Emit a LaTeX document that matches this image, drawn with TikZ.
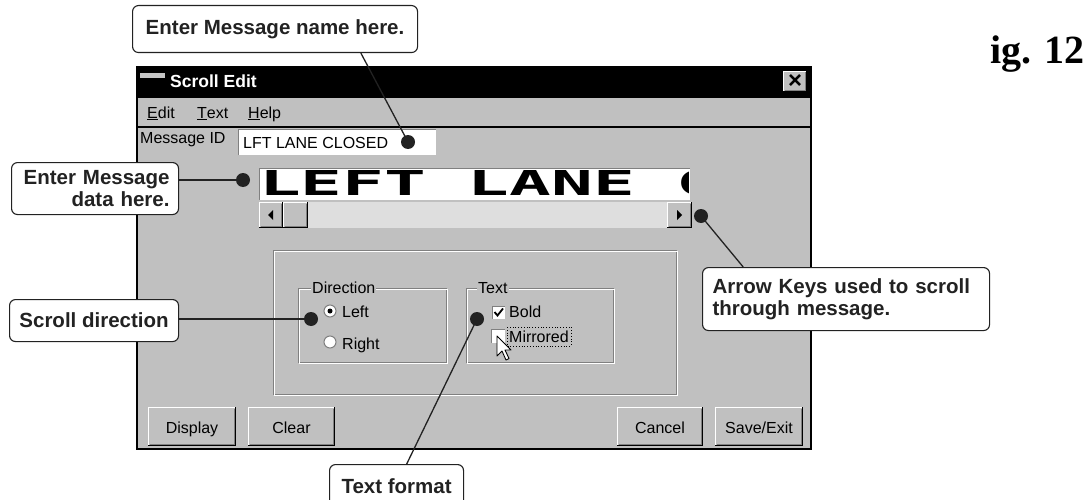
\documentclass[tikz,border=0pt]{standalone}
\usepackage{fontspec}
\setmainfont{Liberation Sans}
\newfontfamily\ledfont{DejaVu Sans Mono}
\newfontfamily\figfont{Liberation Serif}
\usetikzlibrary{calc}
\definecolor{win}{HTML}{C0C0C0}
\definecolor{dkgray}{HTML}{808080}
\definecolor{track}{HTML}{DEDEDE}
\definecolor{ink}{HTML}{222222}
% raised 3D box: x1 y1 x2 y2 (pixel coords, y down)
\newcommand{\bevelup}[4]{%
  \fill[win] (#1,#2) rectangle (#3,#4);
  \draw[white,line width=1.2pt] (#1+0.6,#4-1) -- (#1+0.6,#2+0.6) -- (#3-1,#2+0.6);
  \draw[black,line width=1.2pt] (#1,#4-0.6) -- (#3-0.6,#4-0.6) -- (#3-0.6,#2);
  \draw[dkgray,line width=1.2pt] (#1+1.5,#4-1.8) -- (#3-1.8,#4-1.8) -- (#3-1.8,#2+1.5);
}
\newcommand{\bevelin}[5]{%
  \fill[#5] (#1,#2) rectangle (#3,#4);
  \draw[dkgray,line width=1.2pt] (#1+0.6,#4) -- (#1+0.6,#2+0.6) -- (#3,#2+0.6);
  \draw[white,line width=1.2pt] (#1+0.6,#4-0.6) -- (#3-0.6,#4-0.6) -- (#3-0.6,#2+0.6);
}
\newcommand{\etched}[4]{%
  \draw[dkgray,line width=1pt] (#1,#2) rectangle (#3-1,#4-1);
  \draw[white,line width=1pt] (#1+1,#2+1) rectangle (#3,#4);
}
\begin{document}
\begin{tikzpicture}[x=1pt,y=-1pt,
  callout/.style={draw=ink, line width=1.1pt, rounded corners=6pt, fill=white,
    font=\bfseries\fontsize{20.5}{22.5}\selectfont, text=ink, anchor=north west, inner sep=0pt},
  dot/.style={circle, fill=ink, minimum size=14pt, inner sep=0pt},
  lead/.style={draw=ink, line width=1.3pt},
  ui/.style={font=\fontsize{16}{18}\selectfont, inner sep=0pt, anchor=base west},
  btn/.style={font=\fontsize{16}{18}\selectfont, inner sep=0pt, anchor=base},
  grplabel/.style={font=\fontsize{16}{18}\selectfont, inner sep=1pt, fill=win, anchor=base west}]
\useasboundingbox (0,0) rectangle (1086,500);
\fill[white] (0,0) rectangle (1086,500);

% ---------- window ----------
\fill[win] (137,67) rectangle (811,449);
\fill[black] (137,67) rectangle (811,98);
\fill[gray!45] (140,73) rectangle (165,78);
\node[anchor=base west, inner sep=0pt, text=white, font=\bfseries\fontsize{17.5}{19}\selectfont] (title) at (170,88) {Scroll Edit};
\bevelup{783}{71}{807}{92}
\node[inner sep=0pt, font=\bfseries\fontsize{24}{24}\selectfont] (close) at (795,81.5) {\symbol{"00D7}};
\draw[black,line width=1.2pt] (137,127) -- (811,127);
\node[ui] (medit) at (147,118) {\underline{E}dit};
\node[ui] (mtext) at (197,118) {\underline{T}ext};
\node[ui] (mhelp) at (248,118) {\underline{H}elp};
\draw[black,line width=1.6pt] (137,67) rectangle (811,449);

% Message ID
\node[ui] (msglbl) at (140,143) {Message ID};
\bevelin{238}{129}{436}{155}{white}
\node[ui] (msgid) at (243,148) {LFT LANE CLOSED};

% LED message area
\bevelin{259}{168}{690}{200}{white}
\begin{scope}
  \clip (261,170) rectangle (688,199);
  \node[inner sep=0pt, anchor=base west] (led) at (259,195)
    {\scalebox{2.01}[1]{\ledfont\bfseries\fontsize{34.5}{35}\selectfont LEFT LANE C}};
\end{scope}

% scroll bar
\fill[track] (259,202) rectangle (692,228);
\bevelup{259}{202}{283}{228}
\bevelup{283}{202}{308}{228}
\bevelup{667}{202}{692}{228}
\fill[black] (268,215) -- (273,210) -- (273,220) -- cycle;
\fill[black] (682,215) -- (677,210) -- (677,220) -- cycle;

% option group boxes
\etched{273}{250}{677}{395}
\etched{298}{288}{447}{363}
\etched{466}{288}{614}{363}
\node[grplabel] (gdir) at (311,293) {Direction};
\node[grplabel] (gtxt) at (477,293) {Text};

% radio buttons
\draw[dkgray,fill=white,line width=1pt] (330,311) circle (6);
\fill[black] (330,311) circle (2.5);
\draw[dkgray,fill=white,line width=1pt] (330,342) circle (6);
\node[ui] (rleft) at (342,317) {Left};
\node[ui] (rright) at (342,349) {Right};

% check boxes
\bevelin{492}{306}{505}{319}{white}
\draw[black,line width=1.8pt] (494.5,312) -- (497.5,315.5) -- (503,308.5);
\bevelin{491}{329}{505}{343}{white}
\node[ui] (cbold) at (509,317) {Bold};
\node[ui] (cmirr) at (509,342) {Mirrored};
\draw[black,dotted,line width=0.8pt] (507,327) rectangle (571,346);

% mouse cursor
\draw[black,fill=white,line width=0.9pt,line join=round]
  (497,336) -- (497,356) -- (502,351) -- (506,360) -- (509,358.5) -- (505,350) -- (511,350) -- cycle;

% buttons
\bevelup{148}{407}{236}{446}
\node[btn] (bdisp) at (192,433) {Display};
\bevelup{248}{407}{335}{446}
\node[btn] (bclear) at (291.5,433) {Clear};
\bevelup{617}{407}{703}{446}
\node[btn] (bcancel) at (660,433) {Cancel};
\bevelup{715}{407}{803}{446}
\node[btn] (bsave) at (759,433) {Save/Exit};

% ---------- callouts ----------
\node[callout, minimum width=285pt, minimum height=47pt] (cname) at (132,5) {Enter Message name here.};
\node[callout, minimum width=167pt, minimum height=52pt, text width=149pt, inner xsep=9pt, align=right] (cdata) at (11,162) {Enter Message\\data here.};
\node[callout, minimum width=169pt, minimum height=42pt] (cdir) at (9,299) {Scroll direction};
\node[callout, minimum width=287pt, minimum height=63pt, text width=267pt, inner xsep=10pt, align=left] (ckeys) at (702,267) {Arrow Keys used to scroll\\through message.};
\node[callout, minimum width=134pt, minimum height=44pt] (cfmt) at (329,464) {Text format};

\node[dot] (dname) at (408,142) {};
\node[dot] (ddata) at (243,180) {};
\node[dot] (ddir) at (311,319) {};
\node[dot] (dfmt) at (477,319) {};
\node[dot] (dkeys) at (701,216) {};

\draw[lead] ($(cname.south west)!0.8!(cname.south east)$) -- (dname.center);
\draw[lead] (cdata.east |- ddata) -- (ddata.center);
\draw[lead] (cdir.east |- ddir) -- (ddir.center);
\draw[lead] ($(cfmt.north west)!0.575!(cfmt.north east)$) -- (dfmt.center);
\draw[lead] ($(ckeys.north west)!0.143!(ckeys.north east)$) -- (dkeys.center);

% figure label
\node[anchor=base west, inner sep=0pt, font=\figfont\bfseries\fontsize{40}{40}\selectfont] (fig) at (990,64) {ig. 12};
\end{tikzpicture}
\end{document}
